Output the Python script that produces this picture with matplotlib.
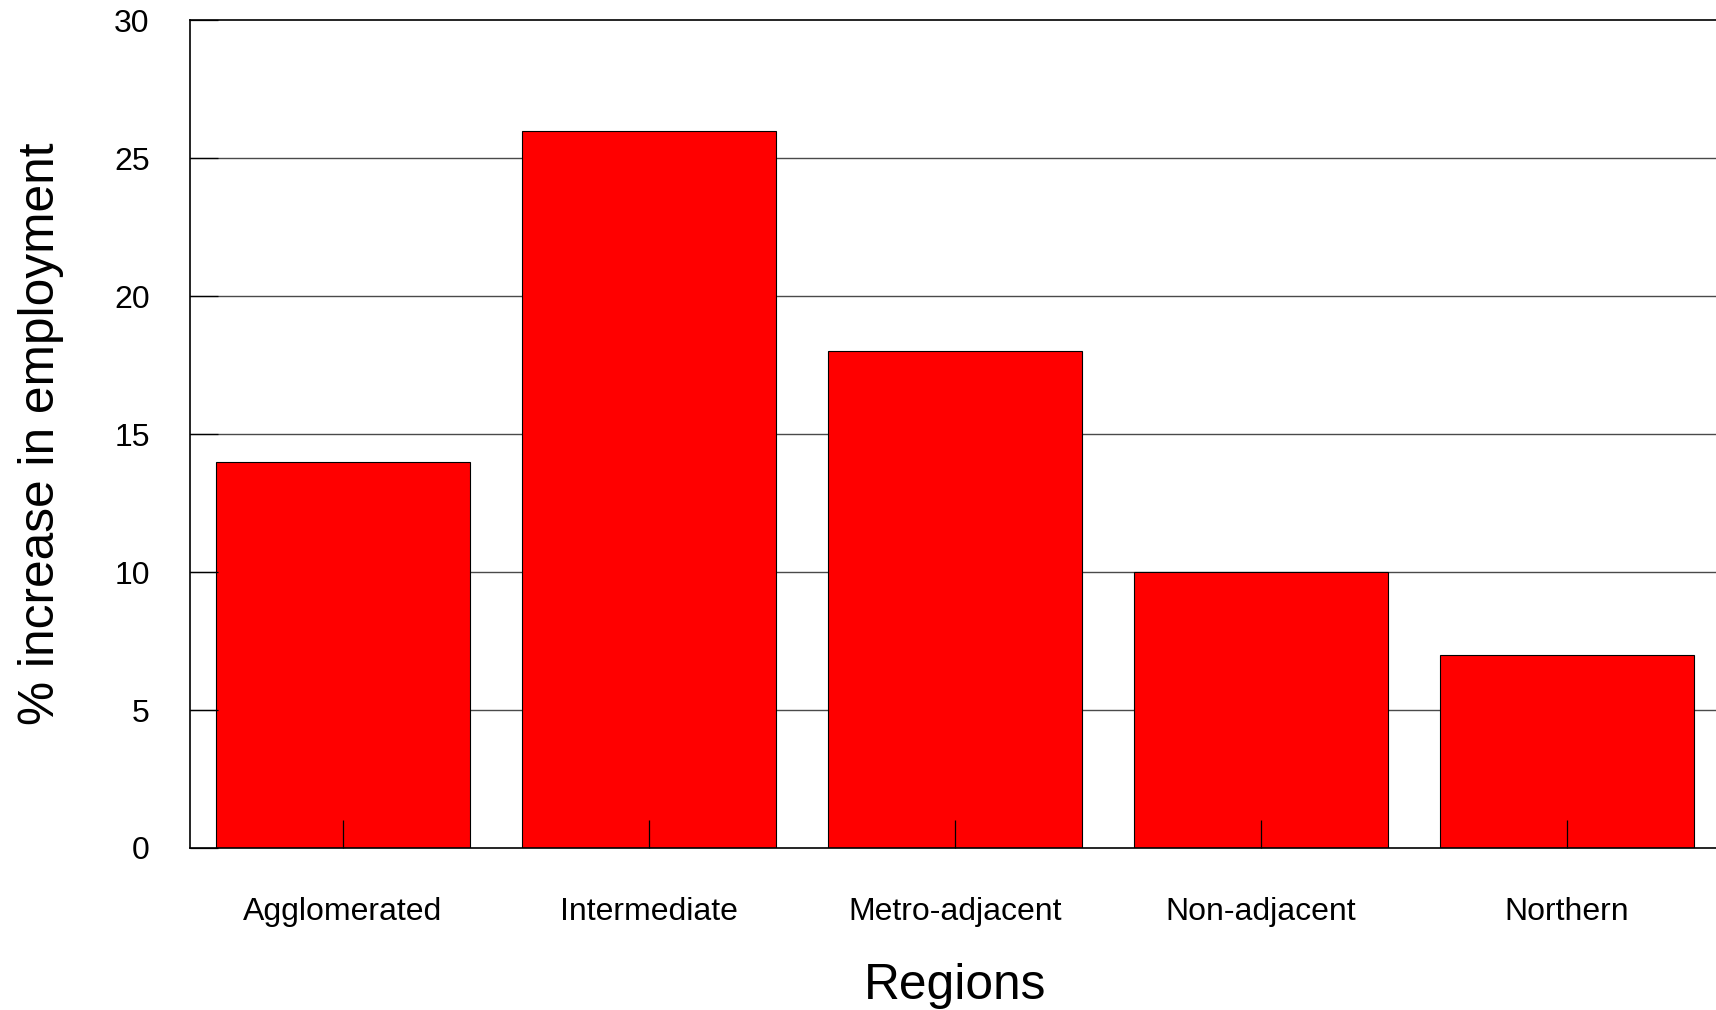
import matplotlib.pyplot as plt

# 数据
regions = ['Agglomerated', 'Intermediate', 'Metro-adjacent', 'Non-adjacent', 'Northern']
increase = [14, 26, 18, 10, 7]
y_ticks = [0, 5, 10, 15, 20, 25, 30]

plt.rcParams['font.family'] = ['Liberation Sans', 'DejaVu Sans']

fig = plt.figure(figsize=(17.16, 10.10), dpi=100)
ax = fig.add_axes([0.1107, 0.1604, 0.8916, 0.8196])

x = range(len(regions))
ax.bar(x, increase, width=0.833, color='#ff0000', edgecolor='black', linewidth=0.8, zorder=2)

# 网格线
for v in y_ticks[1:-1]:
    ax.axhline(v, color='#4a4a4a', linewidth=1.0, zorder=1)

ax.set_axisbelow(False)
ax.set_xlim(-0.5, 4.5)
ax.set_ylim(0, 30)
ax.set_xticks(list(x))
ax.set_xticklabels(regions)
ax.set_yticks(y_ticks)

ax.tick_params(axis='both', direction='in', length=20, width=0.9, color='black',
               labelsize=23)
ax.tick_params(axis='x', pad=35)
ax.tick_params(axis='y', pad=29)
ax.xaxis.set_tick_params(which='both', top=False)
ax.yaxis.set_tick_params(which='both', right=False)

for s in ['left', 'bottom', 'top']:
    ax.spines[s].set_linewidth(1.2)
ax.spines['right'].set_visible(False)

ax.set_xlabel('Regions', fontsize=35.7, labelpad=26)
ax.set_ylabel('% increase in employment', fontsize=35.7, labelpad=36)

fig.savefig('out.png', dpi=100)
